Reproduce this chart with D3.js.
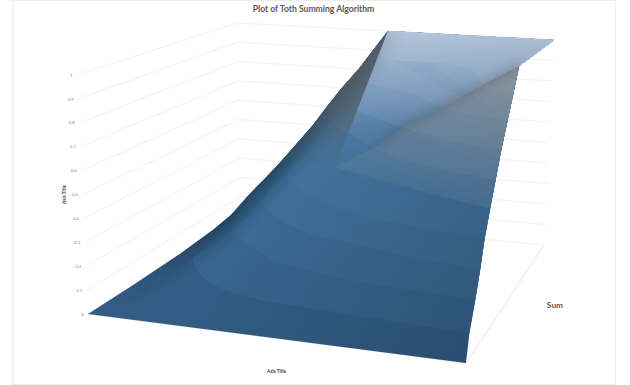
<!DOCTYPE html>
<html>
<head>
<meta charset="utf-8">
<script src="https://cdn.jsdelivr.net/npm/d3@7"></script>
<style>
html,body{margin:0;padding:0;background:#fff}
svg{display:block}
text{font-family:Lato,"Open Sans",sans-serif}
</style>
</head>
<body>
<svg id="chart" width="630" height="385"></svg>
<script>
// Value axis ticks
const zTicks = [0, 0.1, 0.2, 0.3, 0.4, 0.5, 0.6, 0.7, 0.8, 0.9, 1];
const zLabels = ["0", "0,1", "0,2", "0,3", "0,4", "0,5", "0,6", "0,7", "0,8", "0,9", "1"];

// Iso-value lines of the surface: category position (u) and Sum depth (v) at each level
const levels = [0.1, 0.2, 0.3, 0.4, 0.5, 0.6, 0.7, 0.8, 0.9];
const u10 = [1, .8, .577, .423, .265, .168, .128, .11, .06, .02];
const v10 = [.032, .05, .078, .1, .185, .315, .405, .58, .8, 1];
const u20 = [1, .8, .65, .544, .41, .362, .261, .192, .158, .11, .078];
const v20 = [.096, .12, .148, .185, .25, .305, .405, .52, .66, .82, 1];
const u30 = [1, .766, .655, .507, .428, .317, .252, .215, .175, .134];
const v30 = [.148, .2, .255, .305, .362, .487, .6, .755, .88, 1];
const u40 = [1, .8, .644, .467, .365, .295, .25, .187];
const v40 = [.19, .255, .3, .433, .555, .675, .84, 1];
const u50 = [1, .92, .757, .59, .482, .362, .296, .239];
const v50 = [.249, .285, .375, .467, .55, .69, .817, 1];
const u60 = [1, .8, .592, .508, .412, .308, .284];
const v60 = [.31, .385, .55, .66, .762, .923, 1];
const u70 = [1, .85, .677, .594, .436, .365, .332];
const v70 = [.368, .43, .55, .625, .79, .93, 1];
const u80 = [1, .787, .665, .483, .403, .385];
const v80 = [.435, .55, .7, .82, .915, 1];
const u90 = [1, .89, .88, .825, .71, .484, .43];
const v90 = [.499, .55, .61, .755, .865, .9, 1];

// Where the surface first reaches 1 on its right and back edges
const plateauRightV = 0.559;
const plateauBackU = 0.476;

// Left rim: heights of the first category along the Sum axis
const rimV = [0, .3, .6, .82, .95, 1];
const rimZ = [0, 0, .006, .02, .04, .06];

// Ridge of the surface
const ridgeU = [1, .89, .787, .677, .592, .482];
const ridgeV = [.559, .55, .55, .55, .55, .55];
const ridgeZ = [1, .9, .8, .7, .6, .5];

// Fill of each value band, lowest first
const bandColors = ["#335d85", "#38658e", "#3c6a93", "#406f98", "#43739d", "#4576a1", "#4f7ca6", "#5a84ac", "#6589b0", "#7193b7"];

// Box corners in pixels, scaled through the three chart axes
const floorFront = d3.scaleLinear().domain([0, 1]).range([[88, 314], [466, 363]]);
const floorBack = d3.scaleLinear().domain([0, 1]).range([[241, 216], [544, 245]]);
const topFront = d3.scaleLinear().domain([0, 1]).range([[77, 75], [475, 99]]);
const topBack = d3.scaleLinear().domain([0, 1]).range([[237, 23], [554, 40]]);

function project(u, v, z) {
  const depthFloor = d3.scaleLinear().domain([0, 1]).range([floorFront(u), floorBack(u)]);
  const depthTop = d3.scaleLinear().domain([0, 1]).range([topFront(u), topBack(u)]);
  return d3.scaleLinear().domain([0, 1]).range([depthFloor(v), depthTop(v)])(z);
}

const uRows = [u10, u20, u30, u40, u50, u60, u70, u80, u90];
const vRows = [v10, v20, v30, v40, v50, v60, v70, v80, v90];
const contours = levels.map((z, i) => uRows[i].map((u, j) => project(u, vRows[i][j], z)));

const smooth = d3.line().curve(d3.curveCatmullRom.alpha(0.5));
const straight = d3.line();
const tail = pts => pts.length ? "L" + straight(pts).slice(1) : "";

const rightEdge = contours.map(c => c[0]);
const backEdge = contours.map(c => c[c.length - 1]);
const plateau = [project(plateauBackU, 1, 1), project(1, 1, 1), project(1, plateauRightV, 1)];
const rim = rimV.map((v, i) => project(0, v, rimZ[i]));

// Everything from one iso-value line up to the plateau
function regionAbove(i) {
  return smooth(contours[i])
    + tail(backEdge.slice(i + 1))
    + tail(plateau)
    + tail(rightEdge.slice(i + 1).reverse())
    + "Z";
}

const outline = straight([
  project(1, 0, 0),
  ...rightEdge,
  ...plateau.slice().reverse(),
  ...backEdge.slice().reverse(),
  ...rim.slice().reverse()
]) + "Z";

const svg = d3.select("#chart");
const defs = svg.append("defs");

defs.append("clipPath").attr("id", "surfaceClip").append("path").attr("d", outline);
const soft = (id, dev) => defs.append("filter").attr("id", id)
  .attr("filterUnits", "userSpaceOnUse")
  .attr("x", 0).attr("y", 0).attr("width", 630).attr("height", 385)
  .append("feGaussianBlur").attr("stdDeviation", dev);
soft("softWide", 8);
soft("softNarrow", 4);

// Opacity ramp between two points; the stops are given as a fraction along the ramp
function ramp(id, color, p0, p1, stops) {
  const g = defs.append("linearGradient").attr("id", id)
    .attr("gradientUnits", "userSpaceOnUse")
    .attr("x1", p0[0]).attr("y1", p0[1]).attr("x2", p1[0]).attr("y2", p1[1]);
  stops.forEach(s => g.append("stop")
    .attr("offset", s[0])
    .attr("stop-color", color)
    .attr("stop-opacity", s[1]));
}
ramp("upperLight", "#d3dfef", [0, 32], [0, 160], [[0, .68], [.48, .3], [.73, .08], [1, 0]]);
// The grey follows the direction of the iso-value lines on the near side of the ridge
ramp("rightGrey", "#92969b", [500, 60], [464, 200], [[.04, .82], [.27, .62], [.47, .45], [.7, .3], [1, .12]]);
ramp("leftGrey", "#565c63", [0, 32], [0, 172], [[0, .92], [.49, .68], [.74, .3], [1, 0]]);
// Stroke along the rim is faint near the origin and strengthens toward the back
ramp("rimStroke", "#142a40", [110, 0], [225, 0], [[0, 0], [1, .75]]);
// The near right corner falls into shadow
ramp("cornerShade", "#12283c", [230, 240], [440, 370], [[0, 0], [1, .27]]);

// Chart frame
svg.append("rect").attr("x", 12.5).attr("y", 0.5).attr("width", 603).attr("height", 384)
  .attr("fill", "#fff").attr("stroke", "#eeeeee");

// Walls: gridlines run along the left side and across the back
const grid = svg.append("g").attr("fill", "none").attr("stroke", "#eeeeee").attr("stroke-width", 0.8);
zTicks.forEach(z => {
  grid.append("path").attr("d", straight([project(0, 0, z), project(0, 1, z), project(1, 1, z)]));
});
grid.append("path").attr("d", straight([project(0, 0, 0), project(1, 0, 0), project(1, 1, 0)]))
  .attr("stroke", "#dcdcdc");

// Surface
const surface = svg.append("g");
surface.append("path").attr("d", outline).attr("fill", bandColors[0]);
levels.forEach((z, i) => {
  surface.append("path").attr("d", regionAbove(i)).attr("fill", bandColors[i + 1]);
});

// Shading on top of the bands
const shade = svg.append("g").attr("clip-path", "url(#surfaceClip)");
shade.append("path").attr("d", outline).attr("fill", "url(#cornerShade)");
shade.append("path")
  .attr("d", straight([...rim, ...backEdge, plateau[0]]))
  .attr("fill", "none").attr("stroke", "url(#rimStroke)")
  .attr("stroke-width", 16).attr("filter", "url(#softWide)");

const ridge = ridgeU.map((u, i) => project(u, ridgeV[i], ridgeZ[i]));
const ridgeLow = ridge[ridge.length - 1];

shade.append("path")
  .attr("d", straight([plateau[0], ridgeLow, ...backEdge.slice(2)]) + "Z")
  .attr("fill", "url(#leftGrey)");
shade.append("path")
  .attr("d", straight([plateau[0], plateau[1], plateau[2], ...ridge]) + "Z")
  .attr("fill", "url(#upperLight)");
shade.append("path")
  .attr("d", straight([...ridge, contours[4][0]]) + "Z")
  .attr("fill", "url(#rightGrey)");
shade.append("path")
  .attr("d", straight(ridge.slice(0, 5)))
  .attr("fill", "none").attr("stroke", "#4a4a4a").attr("stroke-opacity", 0.34)
  .attr("stroke-width", 6).attr("filter", "url(#softNarrow)");

// Pale rim along the flat top of the surface
svg.append("path").attr("d", straight(plateau))
  .attr("fill", "none").attr("stroke", "#c3d1e4").attr("stroke-width", 0.8);

// Value axis labels
svg.append("g").selectAll("text").data(zTicks).join("text")
  .attr("x", z => project(0, 0, z)[0] - 4.5)
  .attr("y", z => project(0, 0, z)[1] + 1.6)
  .attr("text-anchor", "end")
  .attr("font-size", 4.4)
  .attr("fill", "#8a8a8a")
  .text((z, i) => zLabels[i]);

// Titles
svg.append("text").attr("x", 313.5).attr("y", 11.6).attr("text-anchor", "middle")
  .attr("font-size", 8.6).attr("font-weight", 700).attr("fill", "#595959")
  .text("Plot of Toth Summing Algorithm");
svg.append("text").attr("x", 276.5).attr("y", 372.8).attr("text-anchor", "middle")
  .attr("font-size", 4.6).attr("font-weight", 700).attr("fill", "#404040")
  .text("Axis Title");
svg.append("text").attr("transform", "translate(65.5,194.5) rotate(-90)").attr("text-anchor", "middle")
  .attr("font-size", 4.6).attr("font-weight", 700).attr("fill", "#404040")
  .text("Axis Title");
svg.append("text").attr("x", 555).attr("y", 307.5).attr("text-anchor", "middle")
  .attr("font-size", 8.4).attr("font-weight", 700).attr("fill", "#595959")
  .text("Sum");
</script>
</body>
</html>
